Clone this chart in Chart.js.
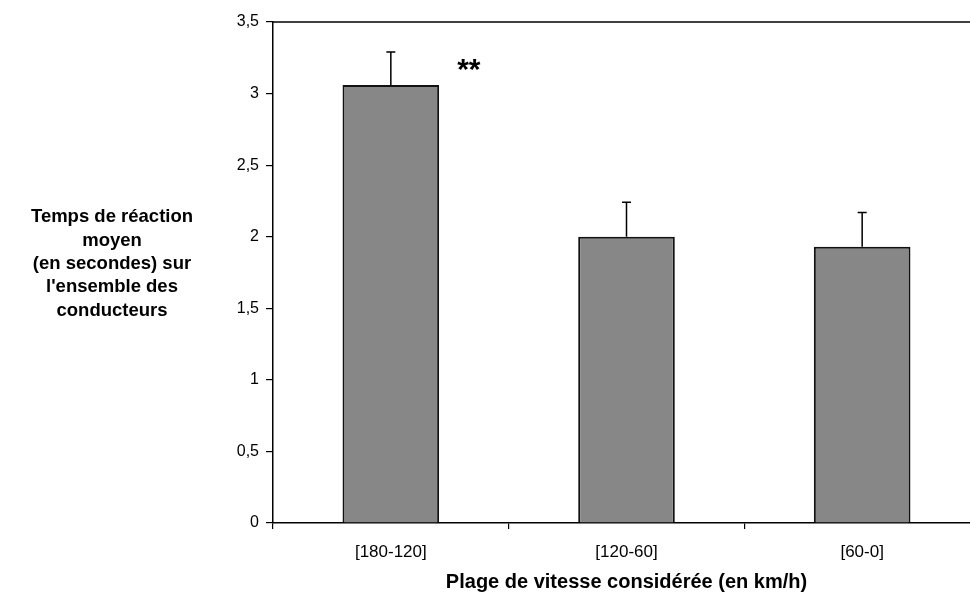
<!DOCTYPE html>
<html>
<head>
<meta charset="utf-8">
<script src="https://cdn.jsdelivr.net/npm/chart.js@4.4.1/dist/chart.umd.min.js"></script>
<style>
    html, body { margin: 0; padding: 0; background: #fff; overflow: hidden; }
    #wrap { width: 980px; height: 596px; }
</style>
</head>
<body>
<div id="wrap"><canvas id="chart" width="980" height="596"></canvas></div>
<script>
const categories = ['[180-120]', '[120-60]', '[60-0]'];
const meanTimes = [3.06, 2.0, 1.93];
const errorUp = [0.23, 0.24, 0.24];
const yTicks = [0, 0.5, 1, 1.5, 2, 2.5, 3, 3.5];
const yTitleLines = ['Temps de réaction', 'moyen', '(en secondes) sur', "l'ensemble des", 'conducteurs'];
const xTitle = 'Plage de vitesse considérée (en km/h)';
const significance = '**';

const FONT = "'Liberation Sans', Arial, sans-serif";

// barres d'erreur (vers le haut seulement) + cadre du haut + titre Y + étoiles
const decorPlugin = {
    id: 'decor',
    afterDatasetsDraw(chart) {
        const ctx = chart.ctx;
        const y = chart.scales.y;
        const area = chart.chartArea;
        const meta = chart.getDatasetMeta(0);

        ctx.save();
        ctx.strokeStyle = '#000';
        ctx.lineWidth = 1.5;
        meta.data.forEach((bar, i) => {
            const top = y.getPixelForValue(meanTimes[i]);
            const end = y.getPixelForValue(meanTimes[i] + errorUp[i]);
            ctx.beginPath();
            ctx.moveTo(bar.x, top);
            ctx.lineTo(bar.x, end);
            ctx.moveTo(bar.x - 4.5, end);
            ctx.lineTo(bar.x + 4.5, end);
            ctx.stroke();
        });

        // ligne du haut
        ctx.beginPath();
        ctx.moveTo(area.left, area.top);
        ctx.lineTo(area.right, area.top);
        ctx.stroke();

        // **
        const b0 = meta.data[0];
        ctx.fillStyle = '#000';
        ctx.font = 'bold 30px ' + FONT;
        ctx.textAlign = 'center';
        ctx.textBaseline = 'middle';
        ctx.fillText(significance, b0.x + 78, y.getPixelForValue(3.06) - 14);

        // titre de l'axe Y (horizontal, à gauche)
        ctx.font = 'bold 18.5px ' + FONT;
        const lineH = 23.3;
        const cy = 264;
        yTitleLines.forEach((line, k) => {
            ctx.fillText(line, 112, cy + (k - (yTitleLines.length - 1) / 2) * lineH);
        });
        ctx.restore();
    }
};

const ctx = document.getElementById('chart').getContext('2d');
new Chart(ctx, {
    type: 'bar',
    data: {
        labels: categories,
        datasets: [{
            data: meanTimes,
            backgroundColor: '#878787',
            borderColor: '#111',
            borderWidth: 2,
            barPercentage: 0.41,
            categoryPercentage: 1.0,
        }],
    },
    options: {
        responsive: false,
        animation: false,
        layout: { padding: { left: 200, right: 0, top: 22, bottom: 0 } },
        plugins: {
            legend: { display: false },
            tooltip: { enabled: false },
        },
        scales: {
            x: {
                offset: true,
                grid: {
                    offset: true,
                    drawOnChartArea: false,
                    drawTicks: true,
                    tickLength: 6,
                    color: '#000',
                    lineWidth: 1.2,
                },
                border: { color: '#000', width: 1.5 },
                ticks: {
                    color: '#000',
                    padding: 13,
                    font: { family: FONT, size: 17 },
                },
                title: {
                    display: true,
                    text: xTitle,
                    color: '#000',
                    font: { family: FONT, size: 20, weight: 'bold' },
                    padding: { top: 0, bottom: 2 },
                },
                afterFit(scale) { scale.height = 73; },
            },
            y: {
                min: 0,
                max: 3.5,
                afterBuildTicks(scale) {
                    scale.ticks = yTicks.map(v => ({ value: v }));
                },
                grid: {
                    drawOnChartArea: false,
                    drawTicks: true,
                    tickLength: 7,
                    color: '#000',
                    lineWidth: 1.2,
                },
                border: { color: '#000', width: 1.5 },
                ticks: {
                    color: '#000',
                    padding: 7,
                    font: { family: FONT, size: 16 },
                    callback: v => String(v).replace('.', ','),
                },
                afterFit(scale) { scale.width = 73; },
            },
        },
    },
    plugins: [decorPlugin],
});
</script>
</body>
</html>
